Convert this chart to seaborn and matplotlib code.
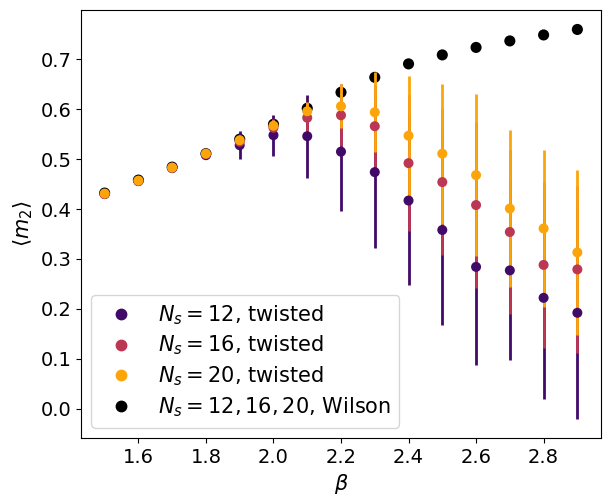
import numpy as np
import pandas as pd
import matplotlib
matplotlib.use("Agg")
import matplotlib.pyplot as plt
import seaborn as sns

beta = [1.5, 1.6, 1.7, 1.8, 1.9, 2.0, 2.1, 2.2, 2.3, 2.4, 2.5, 2.6, 2.7, 2.8, 2.9]

m2_n12 = [0.430, 0.456, 0.482, 0.508, 0.528, 0.548, 0.546, 0.515, 0.474, 0.417, 0.358, 0.284, 0.277, 0.222, 0.192]
err_n12 = [0.004, 0.005, 0.005, 0.008, 0.028, 0.041, 0.083, 0.118, 0.152, 0.170, 0.190, 0.197, 0.180, 0.202, 0.212]

m2_n16 = [0.430, 0.456, 0.483, 0.510, 0.535, 0.563, 0.583, 0.588, 0.566, 0.492, 0.454, 0.408, 0.354, 0.288, 0.279]
err_n16 = [0.003, 0.004, 0.004, 0.005, 0.012, 0.018, 0.028, 0.062, 0.083, 0.137, 0.147, 0.166, 0.164, 0.166, 0.168]

m2_n20 = [0.431, 0.457, 0.483, 0.511, 0.538, 0.567, 0.596, 0.606, 0.594, 0.547, 0.511, 0.468, 0.401, 0.361, 0.313]
err_n20 = [0.003, 0.003, 0.004, 0.005, 0.008, 0.012, 0.018, 0.044, 0.080, 0.120, 0.140, 0.162, 0.157, 0.157, 0.165]

m2_wilson = [0.432, 0.458, 0.484, 0.511, 0.540, 0.570, 0.602, 0.634, 0.664, 0.691, 0.709, 0.724, 0.737, 0.749, 0.760]

labels = [r"$N_s=12$, twisted", r"$N_s=16$, twisted", r"$N_s=20$, twisted",
          r"$N_s=12,16,20$, Wilson"]
colors = ["#420a68", "#bc3754", "#fca50a", "#000000"]

fig = plt.figure(figsize=(6.03, 4.96), dpi=100)
ax = fig.add_axes([81/603, 1-438/496, (601-81)/603, (438-10)/496])

twisted = [(m2_n12, err_n12), (m2_n16, err_n16), (m2_n20, err_n20)]
rows = []
for lab, (vals, _) in zip(labels[:3], twisted):
    for b, v in zip(beta, vals):
        rows.append({"beta": b, "m2": v, "series": lab})
df_tw = pd.DataFrame(rows)
df_w = pd.DataFrame({"beta": beta, "m2": m2_wilson, "series": labels[3]})

# Wilson markers (beneath error bars)
sns.scatterplot(data=df_w, x="beta", y="m2", hue="series",
                palette={labels[3]: colors[3]}, s=64, linewidth=0,
                ax=ax, zorder=1, legend=False)

# error bars for twisted
for (vals, errs), c in zip(twisted, colors[:3]):
    ax.errorbar(beta, vals, yerr=errs, fmt="none", ecolor=c, elinewidth=2, zorder=2)

# twisted markers on top
sns.scatterplot(data=df_tw, x="beta", y="m2", hue="series",
                palette=dict(zip(labels[:3], colors[:3])), s=52, linewidth=0,
                ax=ax, zorder=3, legend=False)

ax.set_xlabel(r"$\beta$", fontsize=15)
ax.set_ylabel(r"$\langle m_2 \rangle$", fontsize=15)
ax.tick_params(labelsize=14)
ax.set_xticks([1.6, 1.8, 2.0, 2.2, 2.4, 2.6, 2.8])
ax.set_yticks([0.0, 0.1, 0.2, 0.3, 0.4, 0.5, 0.6, 0.7])

handles = [plt.Line2D([], [], marker="o", linestyle="none", color=c, markersize=7.5)
           for c in colors]
ax.legend(handles, labels, loc="lower left", fontsize=15, labelspacing=0.35)

fig.savefig("out.png", dpi=100)
